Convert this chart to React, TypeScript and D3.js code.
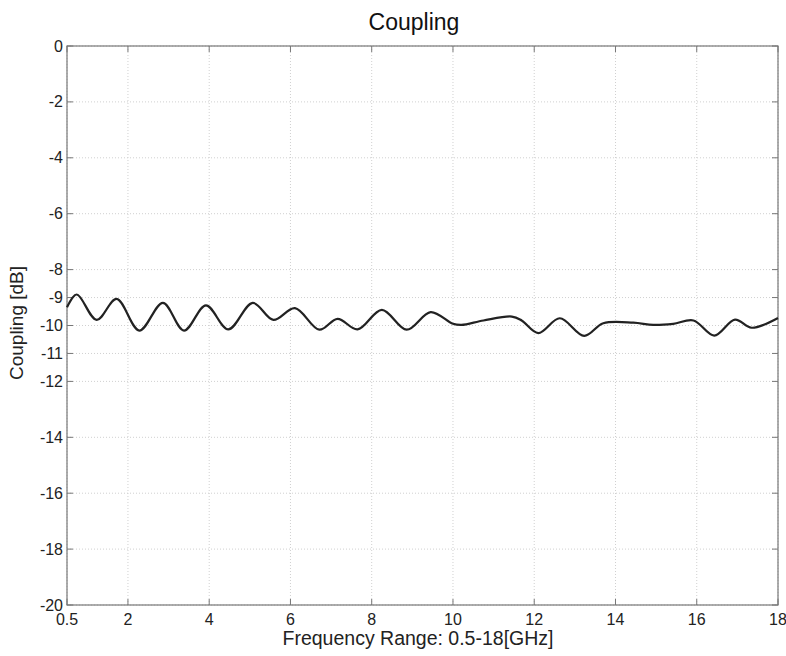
import React from "react";
import * as d3 from "d3";

const freqGHz = [0.5, 0.74, 1.23, 1.72, 2.28, 2.86, 3.38, 3.92, 4.47, 5.07, 5.58, 6.11, 6.71, 7.16, 7.65, 8.25, 8.86, 9.45, 10.0, 10.21, 10.75, 11.45, 11.69, 12.1, 12.63, 13.23, 13.7, 14.44, 14.93, 15.42, 15.92, 16.43, 16.94, 17.35, 18.0];
const couplingDb = [-9.35, -8.89, -9.8, -9.05, -10.18, -9.19, -10.18, -9.28, -10.14, -9.19, -9.8, -9.38, -10.15, -9.76, -10.14, -9.44, -10.15, -9.52, -9.94, -9.98, -9.82, -9.68, -9.82, -10.27, -9.74, -10.37, -9.92, -9.9, -9.98, -9.94, -9.82, -10.36, -9.79, -10.08, -9.73];
const xTicks = [0.5, 2, 4, 6, 8, 10, 12, 14, 16, 18];
const yTicks = [0, -2, -4, -6, -8, -9, -10, -11, -12, -14, -16, -18, -20];

const W = 786, H = 656;
const L = 67, R = 778, T = 46, B = 605;
const FONT = "'Liberation Sans', Arial, sans-serif";

export default function App() {
  const x = d3.scaleLinear().domain([0.5, 18]).range([L, R]);
  const y = d3.scaleLinear().domain([-20, 0]).range([B, T]);
  const pts = freqGHz.map((f, i) => [f, couplingDb[i]] as [number, number]);
  const line = d3.line<[number, number]>().x(d => x(d[0])).y(d => y(d[1])).curve(d3.curveCatmullRom.alpha(0.5));
  return (
    <svg width={W} height={H} style={{ position: "absolute", left: 0, top: 0, background: "#fff" }}>
      <rect x={0} y={0} width={W} height={H} fill="#fff" />
      {xTicks.map(t => (
        <line key={"gx" + t} x1={x(t)} x2={x(t)} y1={T} y2={B} stroke="#d0d0d0" strokeWidth={1} strokeDasharray="1,2" />
      ))}
      {yTicks.map(t => (
        <line key={"gy" + t} x1={L} x2={R} y1={y(t)} y2={y(t)} stroke="#d0d0d0" strokeWidth={1} strokeDasharray="1,2" />
      ))}
      {xTicks.map(t => (
        <g key={"tx" + t}>
          <line x1={x(t)} x2={x(t)} y1={B} y2={B - 6} stroke="#777" />
          <line x1={x(t)} x2={x(t)} y1={T} y2={T + 6} stroke="#777" />
          <text x={x(t)} y={B + 20} textAnchor="middle" fontSize={16} fontFamily={FONT} fill="#222">{t}</text>
        </g>
      ))}
      {yTicks.map(t => (
        <g key={"ty" + t}>
          <line x1={L} x2={L + 6} y1={y(t)} y2={y(t)} stroke="#777" />
          <line x1={R} x2={R - 6} y1={y(t)} y2={y(t)} stroke="#777" />
          <text x={L - 4} y={y(t) + 5.5} textAnchor="end" fontSize={16} fontFamily={FONT} fill="#222">{t}</text>
        </g>
      ))}
      <rect x={L} y={T} width={R - L} height={B - T} fill="none" stroke="#777" strokeWidth={1.2} />
      <path d={line(pts) || ""} fill="none" stroke="#222" strokeWidth={2.2} />
      <text x={414} y={30} textAnchor="middle" fontSize={23} fontFamily={FONT} fill="#111">Coupling</text>
      <text x={418} y={645} textAnchor="middle" fontSize={19.5} fontFamily={FONT} fill="#222">Frequency Range: 0.5-18[GHz]</text>
      <text transform={`translate(23, 323) rotate(-90)`} textAnchor="middle" fontSize={19} fontFamily={FONT} fill="#222">Coupling [dB]</text>
    </svg>
  );
}
